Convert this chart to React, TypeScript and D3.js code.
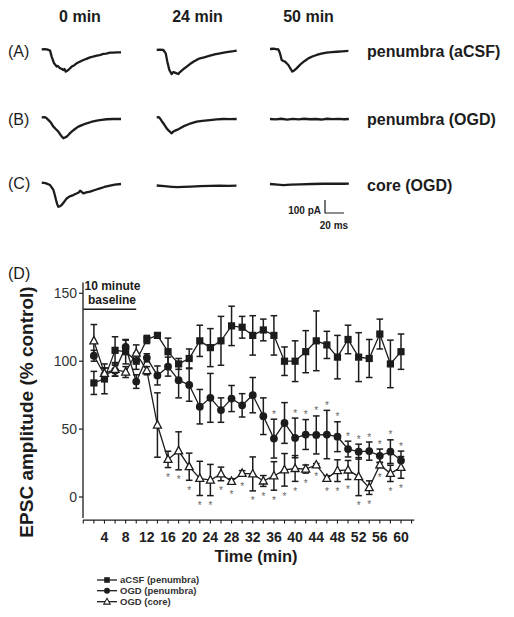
import React from "react";
import * as d3 from "d3";

// ---------- Panel D data ----------
const timePoints = [2, 4, 6, 8, 10, 12, 14, 16, 18, 20, 22, 24, 26, 28, 30, 32, 34, 36, 38, 40, 42, 44, 46, 48, 50, 52, 54, 56, 58, 60];
const acsfMean = [84, 87, 108, 107, 100, 116, 119, 107, 98, 102, 115, 110, 115, 126, 125, 119, 123, 119, 100, 100, 107, 115, 112, 103, 116, 103, 102, 120, 98, 107];
const acsfErr = [8.5, 11, 10, 9, 6, 3, 2, 10, 4, 7, 11.5, 14, 18, 14.5, 8, 14.5, 8, 14.5, 10.5, 15, 15.5, 22, 10, 16, 10.5, 18, 14, 11, 17.5, 13];
const ogdPenMean = [104, 90, 93, 110.5, 85, 102.5, 89.5, 96, 86, 82.5, 66.5, 73, 64, 72.5, 67.5, 75, 59.5, 43, 54.5, 43.5, 46, 45.7, 46, 44.4, 35.3, 33.4, 33.8, 30.3, 33.4, 26.8];
const ogdPenErr = [4, 5, 4, 5, 5, 3, 7, 7, 13, 12, 12.7, 18, 9, 9.6, 8.6, 13, 13.5, 14.3, 15, 14.6, 11, 14, 17.8, 11, 5.8, 5.5, 6.7, 5, 8.7, 7];
const ogdCoreMean = [115, 91, 94, 92, 106, 93, 53, 27.7, 34, 22.3, 13.7, 12.5, 17, 11.5, 17.4, 17, 11.8, 15.5, 20, 21, 20.6, 23.6, 13.7, 19.4, 19.9, 15, 6.9, 23.6, 17.4, 21.8];
const ogdCoreErr = [12, 4, 5, 4, 6, 3, 23.7, 6, 14, 10, 12.6, 11.5, 5, 2, 2, 12.5, 4, 10.5, 12, 9.5, 3, 1, 2, 8, 7, 14, 5, 2, 6, 8];
const penStarTimes = [36, 40, 42, 44, 46, 48, 50, 52, 54, 56, 58, 60];
const coreStarTimes = [16, 18, 20, 22, 24, 26, 28, 30, 32, 34, 36, 38, 40, 42, 44, 46, 48, 50, 52, 54, 56, 58, 60];
const xTickLabels = [4, 8, 12, 16, 20, 24, 28, 32, 36, 40, 44, 48, 52, 56, 60];
const xTickMarks = [0, 2, 4, 6, 8, 10, 12, 14, 16, 18, 20, 22, 24, 26, 28, 30, 32, 34, 36, 38, 40, 42, 44, 46, 48, 50, 52, 54, 56, 58, 60, 62];
const yTicks = [0, 50, 100, 150];
const baselinePeriod = [0, 10];
const legendLabels = ["aCSF (penumbra)", "OGD (penumbra)", "OGD (core)"];

// ---------- Traces (ms, pA) ----------
const columnTitles = ["0 min", "24 min", "50 min"];
const rowLetters = ["(A)", "(B)", "(C)"];
const rowNames = ["penumbra (aCSF)", "penumbra (OGD)", "core (OGD)"];

const traceA1 = [[0, 0], [3, 2], [5.3, 0], [7, -4], [8.8, -10], [10.5, -56], [13, -108], [15.8, -133], [17, -128], [19.3, -146], [21, -150], [22.8, -159], [24, -152], [25.3, -172], [28, -159], [31.6, -133], [34, -124], [36.8, -108], [40, -96], [43.9, -82], [47, -74], [50.9, -62], [54, -57], [57.9, -49], [61, -44], [65, -36], [68, -33], [72, -26], [76, -25], [79, -23], [83.5, -23]];
const traceA2 = [[0, 0], [3, 3], [7, 0], [9.5, -26], [11.2, -90], [13.3, -154], [15.8, -185], [17.5, -170], [19.3, -174], [21, -180], [22.8, -185], [24.5, -170], [26.3, -159], [29, -142], [31.6, -128], [35, -108], [38.6, -90], [42, -76], [45.6, -64], [50, -56], [56.1, -44], [61, -34], [66.7, -26], [72, -18], [77.2, -13], [81, -9], [84.2, -5]];
const traceA3 = [[0, 0], [4, 2], [7, -2], [8.8, -3], [10.5, -33], [12.3, -85], [14, -92], [15.8, -97], [17.5, -110], [19.3, -123], [21.5, -150], [23.5, -174], [25.5, -165], [28, -149], [30.5, -130], [33.3, -110], [36.5, -92], [40.4, -72], [44.5, -58], [49.1, -46], [54, -36], [59.6, -28], [65, -24], [70.2, -21], [76, -18], [82.5, -15]];
const traceB1 = [[0, 0], [3, 2], [5.3, -8], [8.8, -33], [10.5, -50], [12.3, -72], [15, -92], [17.5, -110], [20, -138], [22.8, -162], [24.5, -155], [26.3, -149], [29, -128], [31.6, -110], [35, -90], [38.6, -72], [43, -58], [47.4, -46], [52, -36], [57.9, -26], [63, -20], [68.4, -15], [75, -13], [83.5, -13]];
const traceB2 = [[0, 0], [2, 2], [3.5, -8], [5, -25], [7, -46], [9, -68], [10.5, -85], [13, -105], [15.8, -123], [17.5, -110], [19.3, -103], [22, -95], [24.6, -85], [28, -70], [31.6, -59], [36, -46], [42.1, -33], [48, -27], [56.1, -21], [63, -16], [70.2, -13], [77, -14], [84.2, -13]];
const traceB3 = [[0, 0], [6, -3], [12, 2], [18, -4], [24, 1], [30, -3], [36, 2], [42, -2], [48, 0], [54, -4], [60, 2], [66, -1], [72, 1], [78, -2], [83, 0]];
const traceC1 = [[0, 0], [4, -3], [8.8, -18], [12.3, -56], [13.8, -95], [15.1, -133], [16.3, -165], [17.5, -185], [19, -182], [21, -172], [23.5, -148], [26.3, -121], [29.5, -105], [33.3, -95], [36, -85], [38.6, -77], [40.4, -62], [42, -70], [43.9, -82], [47, -75], [50.9, -69], [56, -56], [61.4, -44], [66, -33], [71.9, -23], [77, -15], [83.5, -10]];
const traceC2 = [[0, 0], [8, -5], [16, -10], [22, -13], [28, -10], [36, -8], [46, -5], [56, -3], [66, -2], [76, -3], [84, -1]];
const traceC3 = [[0, 0], [8, -5], [14, -8], [22, -5], [32, -3], [44, 0], [56, 2], [68, 3], [78, 2], [83, 3]];
const traceGrid = [
  [traceA1, traceA2, traceA3],
  [traceB1, traceB2, traceB3],
  [traceC1, traceC2, traceC3],
];
const scaleBarPA = 100;
const scaleBarMS = 20;

const FONT = "'Liberation Sans', Arial, Helvetica, sans-serif";
const INK = "#1c1c1c";

export default function App() {
  // Panel D scales
  const x = d3.scaleLinear().domain([0, 60]).range([83.3, 401]);
  const y = d3.scaleLinear().domain([0, 150]).range([497, 293.3]);
  const axisY = y(-17);

  // Trace scales
  const colX = [41.7, 156.7, 270];
  const rowBase = [
    [49.3, 50, 49],
    [117.3, 117.3, 119],
    [182.7, 185.5, 184],
  ];
  const tx = d3.scaleLinear().domain([0, 20]).range([0, 19]);
  const ty = d3.scaleLinear().domain([0, 100]).range([0, -13]);

  const series = [
    { mean: acsfMean, err: acsfErr, kind: "square" },
    { mean: ogdPenMean, err: ogdPenErr, kind: "circle" },
    { mean: ogdCoreMean, err: ogdCoreErr, kind: "triangle" },
  ];

  const lineGen = d3
    .line<number>()
    .x((_, i) => x(timePoints[i]))
    .y((d) => y(d));

  const marker = (kind: string, cx: number, cy: number, key: string) => {
    if (kind === "square")
      return <rect key={key} x={cx - 3.6} y={cy - 3.6} width={7.2} height={7.2} fill={INK} />;
    if (kind === "circle") return <circle key={key} cx={cx} cy={cy} r={3.9} fill={INK} />;
    return (
      <path
        key={key}
        d={`M${cx},${cy - 4.4}L${cx + 4},${cy + 3}L${cx - 4},${cy + 3}Z`}
        fill="#fff"
        stroke={INK}
        strokeWidth={1.3}
      />
    );
  };

  const capW = 3.3;

  return (
    <svg
      width={514}
      height={617}
      style={{ position: "absolute", left: 0, top: 0, background: "#fff" }}
      fontFamily={FONT}
    >
      <rect x={0} y={0} width={514} height={617} fill="#fff" />

      {/* ---------- Traces ---------- */}
      {columnTitles.map((t, i) => (
        <text key={t} x={[80, 197.5, 308.5][i]} y={21.5} fontSize={16} fontWeight="bold" textAnchor="middle" fill={INK}>
          {t}
        </text>
      ))}
      {rowLetters.map((t, i) => (
        <text key={t} x={8} y={[57, 125, 189][i]} fontSize={16} fill={INK}>
          {t}
        </text>
      ))}
      {rowNames.map((t, i) => (
        <text key={t} x={367} y={[57, 125, 191][i]} fontSize={16} fontWeight="bold" fill={INK}>
          {t}
        </text>
      ))}
      {traceGrid.map((row, r) =>
        row.map((tr, c) => {
          const g = d3
            .line<number[]>()
            .x((d) => colX[c] + tx(d[0]))
            .y((d) => rowBase[r][c] + ty(d[1]))
            .curve(d3.curveLinear);
          return (
            <path key={`tr${r}${c}`} d={g(tr) || ""} fill="none" stroke={INK} strokeWidth={2.3} strokeLinejoin="round" />
          );
        })
      )}
      {/* scale bar */}
      <path
        d={`M325,${213 + ty(scaleBarPA)}L325,213L${325 + tx(scaleBarMS)},213`}
        fill="none"
        stroke={INK}
        strokeWidth={1.2}
      />
      <text x={321} y={214} fontSize={10} fontWeight="bold" textAnchor="end" fill={INK}>
        100 pA
      </text>
      <text x={334} y={229} fontSize={10} fontWeight="bold" textAnchor="middle" fill={INK}>
        20 ms
      </text>

      {/* ---------- Panel D ---------- */}
      <text x={8} y={279} fontSize={16} fill={INK}>
        (D)
      </text>

      {/* axes */}
      <line x1={83} x2={83} y1={y(158)} y2={y(-15.5)} stroke={INK} strokeWidth={1.3} />
      {yTicks.map((v) => (
        <g key={`yt${v}`}>
          <line x1={79} x2={83} y1={y(v)} y2={y(v)} stroke={INK} strokeWidth={1.2} />
          <text x={77} y={y(v) + 5} fontSize={14} textAnchor="end" fill="#333">
            {v}
          </text>
        </g>
      ))}
      <line x1={83} x2={x(62.5)} y1={axisY} y2={axisY} stroke={INK} strokeWidth={1.3} />
      {xTickMarks.map((t) => (
        <line key={`xm${t}`} x1={x(t)} x2={x(t)} y1={axisY} y2={axisY + 3.5} stroke={INK} strokeWidth={1.1} />
      ))}
      {xTickLabels.map((t) => (
        <text key={`xl${t}`} x={x(t)} y={542} fontSize={14} fontWeight="bold" textAnchor="middle" fill="#222">
          {t}
        </text>
      ))}
      <text x={256} y={562} fontSize={16.5} fontWeight="bold" textAnchor="middle" fill={INK}>
        Time (min)
      </text>
      <text
        transform={`translate(33,412) rotate(-90)`}
        fontSize={19}
        fontWeight="bold"
        textAnchor="middle"
        fill={INK}
      >
        EPSC amplitude (% control)
      </text>

      {/* baseline annotation */}
      <text x={112.5} y={290} fontSize={12} fontWeight="bold" textAnchor="middle" fill={INK}>
        10 minute
      </text>
      <text x={112} y={304} fontSize={12} fontWeight="bold" textAnchor="middle" fill={INK}>
        baseline
      </text>
      <line x1={x(baselinePeriod[0])} x2={x(baselinePeriod[1])} y1={309.3} y2={309.3} stroke={INK} strokeWidth={1.5} />

      {/* lines */}
      {series.map((s, si) => (
        <path key={`ln${si}`} d={lineGen(s.mean) || ""} fill="none" stroke={INK} strokeWidth={1.3} />
      ))}
      {/* error bars */}
      {series.map((s, si) =>
        s.mean.map((m, i) => {
          const cx = x(timePoints[i]);
          const top = y(m + s.err[i]);
          const bot = y(m - s.err[i]);
          return (
            <g key={`eb${si}-${i}`} stroke={INK} strokeWidth={1.5}>
              <line x1={cx} x2={cx} y1={top} y2={bot} />
              <line x1={cx - capW} x2={cx + capW} y1={top} y2={top} />
              <line x1={cx - capW} x2={cx + capW} y1={bot} y2={bot} />
            </g>
          );
        })
      )}
      {/* markers */}
      {series.map((s, si) => s.mean.map((m, i) => marker(s.kind, x(timePoints[i]), y(m), `mk${si}-${i}`)))}

      {/* significance stars */}
      {penStarTimes.map((t) => {
        const i = timePoints.indexOf(t);
        const top = y(ogdPenMean[i] + ogdPenErr[i]);
        return (
          <text key={`ps${t}`} x={x(t)} y={top - 7 + 5.5} fontSize={10} textAnchor="middle" fill="#666">
            *
          </text>
        );
      })}
      {coreStarTimes.map((t) => {
        const i = timePoints.indexOf(t);
        const bot = y(ogdCoreMean[i] - ogdCoreErr[i]);
        return (
          <text key={`cs${t}`} x={x(t)} y={bot + 8 + 5.5} fontSize={10} textAnchor="middle" fill="#666">
            *
          </text>
        );
      })}

      {/* legend */}
      {legendLabels.map((l, i) => {
        const ly = [580, 590.7, 601.7][i];
        return (
          <g key={l}>
            <line x1={97} x2={117} y1={ly} y2={ly} stroke={INK} strokeWidth={1.3} />
            {i === 0 && <rect x={107 - 2.8} y={ly - 2.8} width={5.6} height={5.6} fill={INK} />}
            {i === 1 && <circle cx={107} cy={ly} r={3} fill={INK} />}
            {i === 2 && (
              <path d={`M107,${ly - 3.4}L110.2,${ly + 2.4}L103.8,${ly + 2.4}Z`} fill="#fff" stroke={INK} strokeWidth={1.1} />
            )}
            <text x={120} y={ly + 3.4} fontSize={9.5} fontWeight="bold" fill="#333">
              {l}
            </text>
          </g>
        );
      })}
    </svg>
  );
}
